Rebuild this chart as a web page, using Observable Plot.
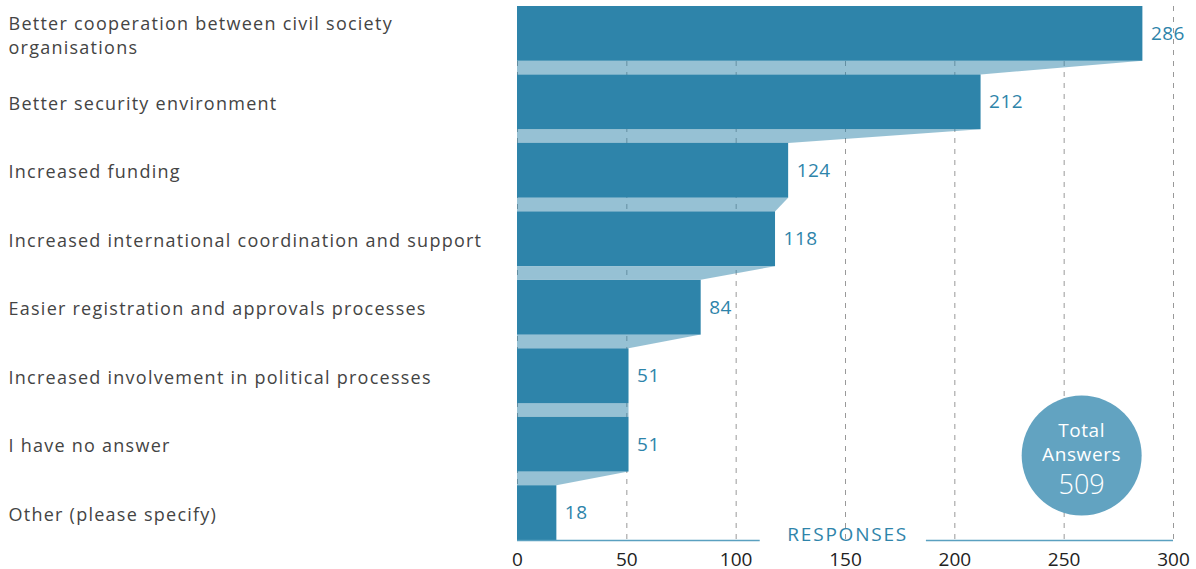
<!DOCTYPE html>
<html>
<head>
<meta charset="utf-8">
<script src="https://cdn.jsdelivr.net/npm/d3@7"></script>
<script src="https://cdn.jsdelivr.net/npm/@observablehq/plot@0.6"></script>
<style>
  html, body { margin: 0; padding: 0; background: #fff; }
  #chart svg { display: block; }
</style>
</head>
<body>
<div id="chart"></div>
<script>
const categories = [
  "Better cooperation between civil society\norganisations",
  "Better security environment",
  "Increased funding",
  "Increased international coordination and support",
  "Easier registration and approvals processes",
  "Increased involvement in political processes",
  "I have no answer",
  "Other (please specify)"
];
const values = [286, 212, 124, 118, 84, 51, 51, 18];
const totalAnswers = 509;
const xTicks = [0, 50, 100, 150, 200, 250, 300];
const axisTitle = "RESPONSES";

const barBand = 0.8; // bar thickness in step units
const yMax = categories.length - 1 + barBand;

const bars = categories.map((c, i) => ({label: c, value: values[i], y1: i, y2: i + barBand, yc: i + barBand / 2}));
const connectors = [];
for (let i = 0; i < values.length - 1; i++) {
  connectors.push({id: i, y: i + barBand, x: values[i]});
  connectors.push({id: i, y: i + 1, x: values[i + 1]});
}

const FONT = "'Open Sans', sans-serif";
const barColor = "#2e84aa";

const chart = Plot.plot({
  width: 1196,
  height: 569,
  marginLeft: 517,
  marginRight: 23,
  marginTop: 6,
  marginBottom: 29,
  style: {fontFamily: FONT, fontSize: "18px", color: "#222", background: "#fff"},
  x: {domain: [0, 300]},
  y: {domain: [0, yMax], range: [6, 540], axis: null},
  marks: [
    Plot.ruleX(xTicks, {y1: 0, y2: yMax, stroke: "#999", strokeWidth: 1, strokeDasharray: "5,6"}),
    Plot.areaX(connectors, {y: "y", x1: 0, x2: "x", z: "id", fill: barColor, fillOpacity: 0.5}),
    Plot.rect(bars, {x1: 0, x2: "value", y1: "y1", y2: "y2", fill: barColor}),
    Plot.text(bars, {x: "value", y: "yc", text: d => String(d.value), dx: 8, textAnchor: "start", fill: barColor, fontSize: 19, ariaDescription: "value-labels"}),
    Plot.text(bars, {x: 0, y: "yc", text: "label", dx: -509, textAnchor: "start", fill: "#444", fontSize: 18, lineHeight: 1.33, ariaDescription: "category-labels"}),
    Plot.ruleY([{x1: 0, x2: 111}, {x1: 187, x2: 300}], {y: yMax, x1: "x1", x2: "x2", stroke: "#5aa0c0", strokeWidth: 1.5}),
    Plot.text([axisTitle], {x: 151, y: yMax, text: d => d, dy: -6, fill: barColor, fontSize: 19, textAnchor: "middle", ariaDescription: "axis-title"}),
    Plot.axisX(xTicks, {tickSize: 0, tickPadding: 12, fontSize: 19, fill: "#222"}),
    Plot.dot([totalAnswers], {x: 258, y: 6.56, r: 60, fill: "#62a3c1", stroke: null}),
    Plot.text([totalAnswers], {x: 258, y: 6.56, text: () => "Total\nAnswers", dy: -14, fill: "#fff", fontSize: 19, lineHeight: 1.27, ariaDescription: "total-title"}),
    Plot.text([totalAnswers], {x: 258, y: 6.56, text: d => String(d), dy: 30, fill: "#fff", fontSize: 27, fontWeight: 300})
  ]
});
const sel = d3.select(chart);
sel.selectAll("g[aria-description='category-labels']").style("letter-spacing", "1.25px");
sel.selectAll("g[aria-description='value-labels']").style("letter-spacing", "0.5px");
sel.selectAll("g[aria-description='axis-title']").style("letter-spacing", "1.8px");
sel.selectAll("g[aria-description='total-title']").style("letter-spacing", "0.6px");
document.getElementById("chart").appendChild(chart);
</script>
</body>
</html>
